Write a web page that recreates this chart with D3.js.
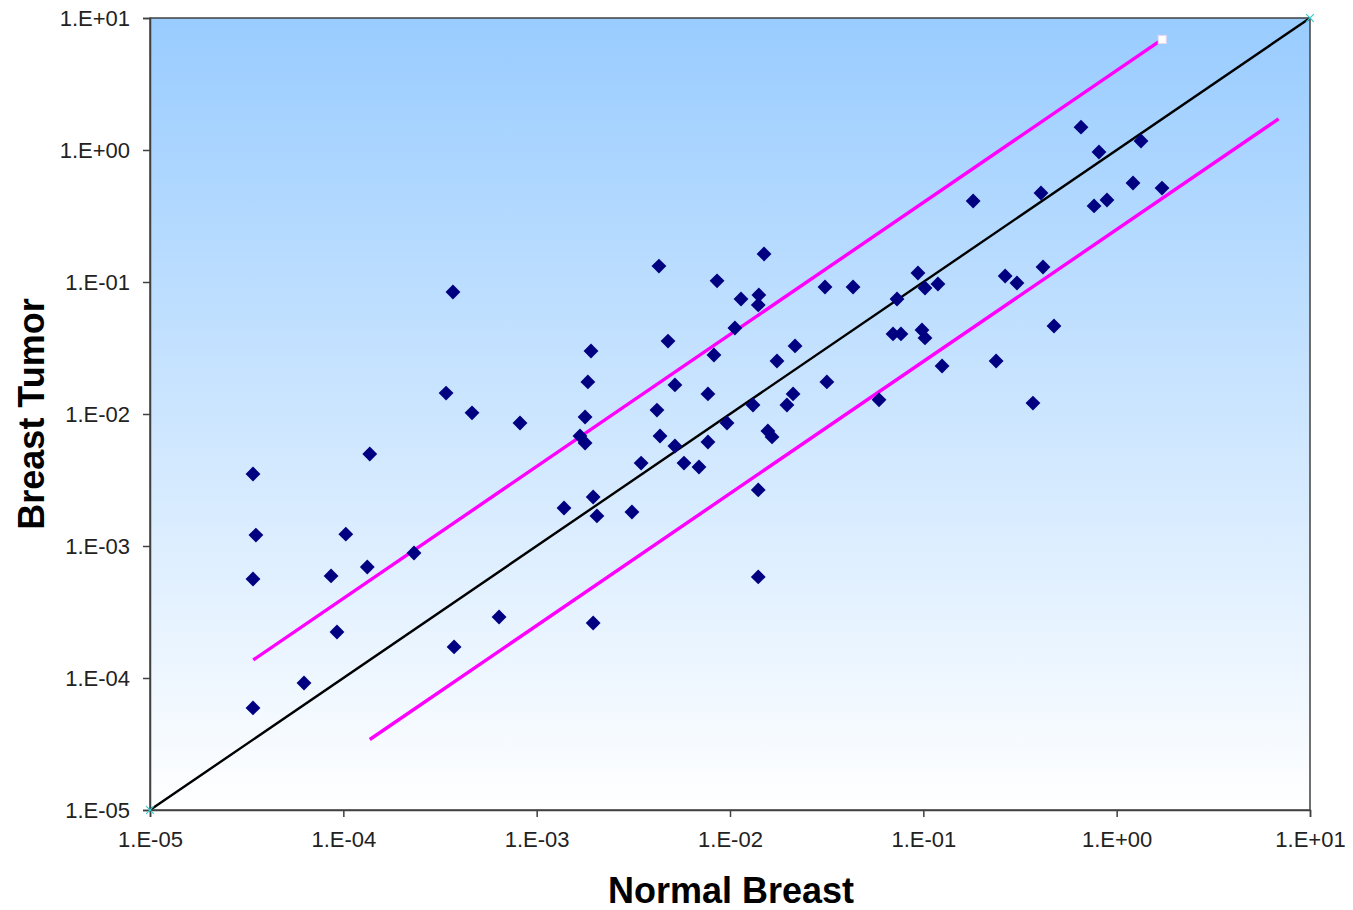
<!DOCTYPE html>
<html>
<head>
<meta charset="utf-8">
<script src="https://cdn.jsdelivr.net/npm/d3@7"></script>
<style>
  html, body { margin: 0; padding: 0; background: #fff; }
  svg { display: block; }
</style>
</head>
<body>
<svg id="chart" width="1353" height="910"></svg>
<script>
// ---- Data ----
const normalBreast = [
  3.41e-5, 3.53e-5, 3.41e-5, 3.41e-5, 6.26e-5, 9.27e-5, 8.64e-5, 1.03e-4, 1.33e-4, 1.37e-4,
  2.32e-4, 3.69e-4, 3.40e-4, 4.63e-4, 3.74e-4, 6.39e-4, 8.20e-4, 1.385e-3, 1.675e-3, 1.78e-3,
  1.78e-3, 1.84e-3, 1.91e-3, 1.96e-3, 2.05e-3, 1.96e-3, 3.11e-3, 3.47e-3, 4.29e-3, 4.19e-3,
  4.345e-3, 4.78e-3, 5.19e-3, 5.19e-3, 5.78e-3, 6.91e-3, 7.69e-3, 7.69e-3, 8.26e-3, 8.57e-3,
  9.65e-3, 1.06e-2, 1.14e-2, 1.315e-2, 1.40e-2, 1.40e-2, 1.41e-2, 1.40e-2, 1.50e-2, 1.57e-2,
  1.65e-2, 1.75e-2, 1.97e-2, 2.12e-2, 2.17e-2, 3.10e-2, 3.17e-2, 4.33e-2, 5.90e-2, 6.97e-2,
  7.31e-2, 7.66e-2, 9.38e-2, 9.84e-2, 1.02e-1, 1.02e-1, 1.19e-1, 1.25e-1, 1.81e-1, 2.38e-1,
  2.65e-1, 3.05e-1, 3.69e-1, 4.06e-1, 4.16e-1, 4.74e-1, 6.54e-1, 7.64e-1, 8.10e-1, 8.91e-1,
  1.215, 1.336, 1.716
];
const breastTumor = [
  3.51e-3, 1.21e-3, 5.62e-4, 5.93e-5, 9.17e-5, 2.23e-4, 5.93e-4, 1.23e-3, 6.93e-4, 4.98e-3,
  8.85e-4, 8.40e-2, 1.44e-2, 1.02e-2, 1.72e-4, 2.90e-4, 8.55e-3, 1.94e-3, 6.81e-3, 9.49e-3,
  6.03e-3, 1.75e-2, 3.00e-2, 2.35e-3, 1.69e-3, 2.61e-4, 1.81e-3, 4.25e-3, 1.32e-1, 1.07e-2,
  6.81e-3, 3.57e-2, 1.66e-2, 5.72e-3, 4.25e-3, 3.97e-3, 1.42e-2, 6.14e-3, 2.80e-2, 1.02e-1,
  8.55e-3, 4.48e-2, 7.43e-2, 1.17e-2, 2.66e-3, 5.83e-4, 7.97e-2, 6.70e-2, 1.63e-1, 7.43e-3,
  6.70e-3, 2.52e-2, 1.17e-2, 1.42e-2, 3.28e-2, 9.17e-2, 1.75e-2, 9.17e-2, 1.28e-2, 4.04e-2,
  7.43e-2, 4.04e-2, 1.17e-1, 4.33e-2, 3.77e-2, 9.01e-2, 9.66e-2, 2.31e-2, 4.11e-1, 2.52e-2,
  1.11e-1, 9.83e-2, 1.21e-2, 4.72e-1, 1.30e-1, 4.64e-2, 1.49, 3.77e-1, 9.66e-1, 4.18e-1,
  5.62e-1, 1.17, 5.15e-1
];
// reference lines: identity, 4-fold up, 4-fold down
const identityX = [1e-5, 10];
const identityY = [1e-5, 10];
const upperX = [3.42e-5, 1.72];
const upperY = [1.37e-4, 6.88];
const lowerX = [1.37e-4, 6.88];
const lowerY = [3.42e-5, 1.72];
const tickValues = [1e-5, 1e-4, 1e-3, 1e-2, 1e-1, 1e0, 1e1];
const xTitle = "Normal Breast";
const yTitle = "Breast Tumor";

(function () {
  // ---- Layout ----
  const svg = d3.select("#chart");
  const pL = 150, pR = 1310, pT = 18, pB = 810;
  const x = d3.scaleLog().domain([1e-5, 10]).range([pL, pR]);
  const y = d3.scaleLog().domain([1e-5, 10]).range([pB, pT]);

  const fmt = v => {
    const e = Math.round(Math.log10(v));
    const s = e < 0 ? "-" : "+";
    const a = Math.abs(e);
    return "1.E" + s + (a < 10 ? "0" + a : a);
  };

  const defs = svg.append("defs");
  const grad = defs.append("linearGradient").attr("id", "bg")
    .attr("x1", 0).attr("y1", 0).attr("x2", 0).attr("y2", 1);
  grad.append("stop").attr("offset", "0%").attr("stop-color", "#99CCFF");
  grad.append("stop").attr("offset", "100%").attr("stop-color", "#FFFFFF");

  svg.append("rect").attr("x", pL).attr("y", pT)
    .attr("width", pR - pL).attr("height", pB - pT)
    .attr("fill", "url(#bg)");

  // lines
  const line = d3.line().x(d => x(d[0])).y(d => y(d[1]));
  svg.append("path").datum(d3.zip(identityX, identityY)).attr("d", line)
    .attr("fill", "none").attr("stroke", "#000").attr("stroke-width", 2.4);
  svg.append("path").datum(d3.zip(upperX, upperY)).attr("d", line)
    .attr("fill", "none").attr("stroke", "#FF00FF").attr("stroke-width", 3.4);
  svg.append("path").datum(d3.zip(lowerX, lowerY)).attr("d", line)
    .attr("fill", "none").attr("stroke", "#FF00FF").attr("stroke-width", 3.4);

  // endpoint markers
  svg.append("rect")
    .attr("x", x(upperX[1]) - 4).attr("y", y(upperY[1]) - 4)
    .attr("width", 8).attr("height", 8)
    .attr("fill", "#fff").attr("stroke", "#e8d8f0").attr("stroke-width", 1);

  // axes frame
  svg.append("rect").attr("x", pL).attr("y", pT)
    .attr("width", pR - pL).attr("height", pB - pT)
    .attr("fill", "none").attr("stroke", "#404040").attr("stroke-width", 1.5);

  const xAxis = svg.append("g").attr("transform", `translate(0,${pB})`)
    .call(d3.axisBottom(x).tickValues(tickValues).tickFormat(fmt).tickSizeOuter(0).tickSize(7).tickPadding(14));
  const yAxis = svg.append("g").attr("transform", `translate(${pL},0)`)
    .call(d3.axisLeft(y).tickValues(tickValues).tickFormat(fmt).tickSizeOuter(0).tickSize(7).tickPadding(13));
  [xAxis, yAxis].forEach(g => {
    g.select(".domain").attr("stroke", "#404040").attr("stroke-width", 1.5);
    g.selectAll(".tick line").attr("stroke", "#404040").attr("stroke-width", 1.5);
    g.selectAll(".tick text").attr("fill", "#222")
      .style("font-family", "Arial, 'Liberation Sans', sans-serif").style("font-size", "22px");
  });

  const cross = d3.symbol().type(d3.symbolX).size(40);
  d3.zip(identityX, identityY).forEach(p => {
    svg.append("path").attr("d", cross)
      .attr("transform", `translate(${x(p[0])},${y(p[1])})`)
      .attr("fill", "none").attr("stroke", "#33CCCC").attr("stroke-width", 1.2);
  });

  // points
  const diamond = d3.symbol().type(d3.symbolSquare).size(110);
  svg.append("g").selectAll("path")
    .data(d3.zip(normalBreast, breastTumor))
    .join("path")
    .attr("d", diamond)
    .attr("transform", d => `translate(${x(d[0])},${y(d[1])}) rotate(45)`)
    .attr("fill", "#000080");

  // titles
  svg.append("text").attr("x", 731).attr("y", 903)
    .attr("text-anchor", "middle")
    .style("font-family", "Arial, 'Liberation Sans', sans-serif")
    .style("font-weight", "bold").style("font-size", "36px")
    .text(xTitle);
  svg.append("text")
    .attr("transform", `translate(44,414) rotate(-90)`)
    .attr("text-anchor", "middle")
    .style("font-family", "Arial, 'Liberation Sans', sans-serif")
    .style("font-weight", "bold").style("font-size", "36px")
    .text(yTitle);
})();
</script>
</body>
</html>
